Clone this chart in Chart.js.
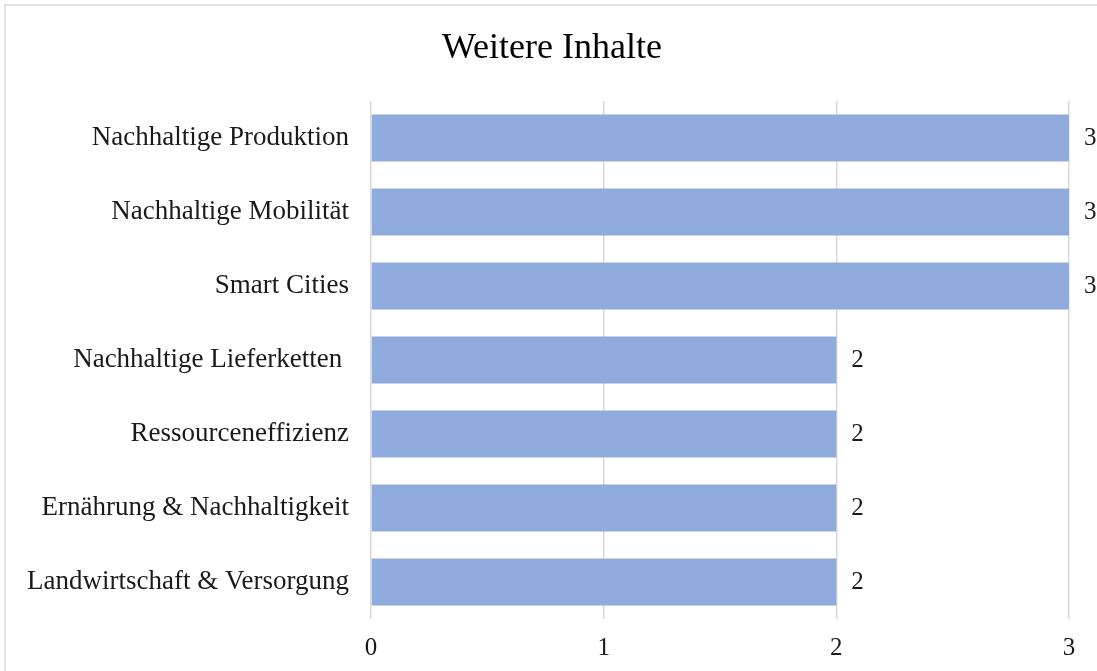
<!DOCTYPE html>
<html><head><meta charset="utf-8">
<script src="https://cdn.jsdelivr.net/npm/chart.js@4/dist/chart.umd.min.js"></script>
<style>html,body{margin:0;padding:0;background:#fff;}#wrap{position:absolute;left:0;top:0;width:1097px;height:671px;}</style>
</head><body>
<div id="wrap"><canvas id="c" width="1097" height="671"></canvas></div>
<script>
const categories = ["Nachhaltige Produktion","Nachhaltige Mobilität","Smart Cities","Nachhaltige Lieferketten ","Ressourceneffizienz","Ernährung & Nachhaltigkeit","Landwirtschaft & Versorgung"];
const values = [3,3,3,2,2,2,2];
const xTicks = [0,1,2,3];
const titleText = "Weitere Inhalte";
const FONT = "'Liberation Serif','Times New Roman',serif";

const frame = {
  id:'frame',
  beforeDraw(chart){
    const ctx = chart.ctx;
    ctx.save();
    ctx.strokeStyle = '#e3e3e3';
    ctx.lineWidth = 2;
    ctx.beginPath();
    ctx.moveTo(5, 700); ctx.lineTo(5, 5); ctx.lineTo(1200, 5);
    ctx.stroke();
    ctx.restore();
  },
  afterDraw(chart){
    const ctx = chart.ctx;
    ctx.save();
    ctx.font = "36px " + FONT;
    ctx.fillStyle = '#000';
    ctx.textAlign = 'center';
    ctx.textBaseline = 'alphabetic';
    ctx.fillText(titleText, 552, 58);
    ctx.restore();
  }
};
const dataLabels = {
  id:'dataLabels',
  afterDatasetsDraw(chart){
    const ctx = chart.ctx;
    const meta = chart.getDatasetMeta(0);
    ctx.save();
    ctx.font = "25px " + FONT;
    ctx.fillStyle = '#1a1a1a';
    ctx.textAlign = 'left';
    ctx.textBaseline = 'middle';
    meta.data.forEach((bar,i)=>{
      ctx.fillText(String(values[i]), bar.x + 15, bar.y);
    });
    ctx.restore();
  }
};

new Chart(document.getElementById('c'), {
  type:'bar',
  data:{labels:categories, datasets:[{data:values, backgroundColor:'#8faadc', borderWidth:0, barPercentage:0.635, categoryPercentage:1}]},
  options:{
    indexAxis:'y',
    responsive:false,
    animation:false,
    layout:{padding:{left:0,right:28,top:101,bottom:0}},
    plugins:{
      legend:{display:false},
      tooltip:{enabled:false},
      title:{display:false}
    },
    scales:{
      x:{min:0,max:3,position:'bottom',
        afterFit(s){s.height=52;},
        ticks:{stepSize:1,color:'#1a1a1a',font:{family:FONT,size:25},padding:14,callback:(v)=>xTicks.includes(v)?String(v):''},
        grid:{color:'#d9d9d9',lineWidth:1.5,drawTicks:false},
        border:{display:false}
      },
      y:{
        afterFit(s){s.width=371;},
        ticks:{color:'#1a1a1a',font:{family:FONT,size:27},padding:22},
        grid:{display:false,drawTicks:false},
        border:{display:false}
      }
    }
  },
  plugins:[frame,dataLabels]
});
</script>
</body></html>
